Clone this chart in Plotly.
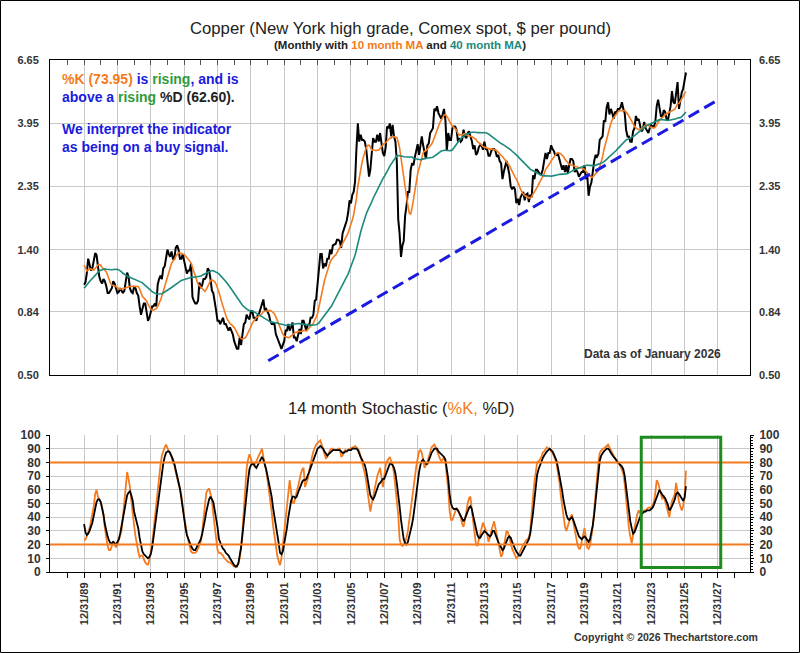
import numpy as np
import pandas as pd
import plotly.graph_objects as go

# ---- data ---------------------------------------------------------------
# monthly closes before the chart starts (Sep 1986 - Nov 1989), only used to
# warm up the moving averages
lead_close = [
    0.61, 0.62, 0.61, 0.62,
    0.62, 0.63, 0.66, 0.66, 0.69, 0.74, 0.80, 0.80, 0.82, 0.86, 1.05, 1.18,
    1.06, 1.02, 1.10, 0.97, 0.98, 1.02, 0.96, 1.00, 1.22, 1.32, 1.47, 1.52,
    1.44, 1.42, 1.37, 1.42, 1.22, 1.14, 1.20, 1.28, 1.31, 1.21, 1.14,
]

# copper, $ per pound, month end Dec 1989 - Jan 2026
close = [
    1.05,
    1.07, 1.15, 1.30, 1.24, 1.18, 1.20, 1.30, 1.36, 1.34, 1.20, 1.12, 1.08,  # 1990
    1.06, 1.10, 1.08, 1.04, 0.98, 0.98, 1.00, 1.02, 1.08, 1.06, 1.02, 0.98,  # 1991
    0.99, 1.02, 1.00, 0.98, 1.00, 1.08, 1.16, 1.12, 1.02, 0.99, 0.98, 1.03,  # 1992
    1.02, 0.98, 0.96, 0.88, 0.82, 0.86, 0.90, 0.90, 0.84, 0.78, 0.80, 0.85,  # 1993
    0.88, 0.88, 0.90, 0.88, 1.05, 1.10, 1.13, 1.10, 1.20, 1.22, 1.33, 1.40,  # 1994
    1.35, 1.32, 1.38, 1.30, 1.30, 1.42, 1.45, 1.40, 1.30, 1.30, 1.35, 1.28,  # 1995
    1.18, 1.15, 1.18, 1.18, 1.25, 0.95, 0.92, 0.90, 0.90, 0.92, 1.07, 1.02,  # 1996
    1.05, 1.10, 1.10, 1.12, 1.20, 1.18, 1.10, 1.00, 0.98, 0.92, 0.85, 0.78,  # 1997
    0.78, 0.76, 0.78, 0.80, 0.76, 0.76, 0.74, 0.72, 0.74, 0.72, 0.70, 0.66,  # 1998
    0.64, 0.62, 0.62, 0.68, 0.64, 0.70, 0.76, 0.77, 0.82, 0.80, 0.79, 0.84,  # 1999
    0.85, 0.80, 0.80, 0.78, 0.82, 0.83, 0.87, 0.90, 0.93, 0.85, 0.86, 0.84,  # 2000
    0.82, 0.78, 0.76, 0.76, 0.76, 0.70, 0.68, 0.66, 0.64, 0.62, 0.64, 0.66,  # 2001
    0.72, 0.72, 0.76, 0.72, 0.74, 0.77, 0.68, 0.68, 0.66, 0.70, 0.73, 0.70,  # 2002
    0.78, 0.78, 0.74, 0.72, 0.76, 0.75, 0.80, 0.80, 0.82, 0.92, 0.93, 1.05,  # 2003
    1.20, 1.35, 1.35, 1.20, 1.25, 1.22, 1.30, 1.30, 1.40, 1.35, 1.45, 1.46,  # 2004
    1.47, 1.52, 1.52, 1.50, 1.42, 1.60, 1.65, 1.70, 1.78, 1.90, 2.10, 2.05,  # 2005
    2.20, 2.25, 2.45, 3.20, 3.95, 3.40, 3.60, 3.45, 3.45, 3.40, 3.20, 2.85,  # 2006
    2.55, 2.70, 3.10, 3.50, 3.40, 3.40, 3.60, 3.40, 3.65, 3.40, 3.10, 3.02,  # 2007
    3.25, 3.85, 3.80, 3.95, 3.55, 3.90, 3.55, 3.40, 2.90, 1.80, 1.60, 1.32,  # 2008
    1.45, 1.50, 1.85, 2.00, 2.25, 2.25, 2.70, 2.85, 2.80, 3.00, 3.15, 3.33,  # 2009
    3.05, 3.30, 3.55, 3.30, 3.10, 2.95, 3.30, 3.35, 3.65, 3.75, 3.80, 4.45,  # 2010
    4.40, 4.55, 4.30, 4.20, 4.10, 4.25, 4.45, 4.05, 3.15, 3.65, 3.45, 3.45,  # 2011
    3.80, 3.85, 3.85, 3.75, 3.40, 3.50, 3.40, 3.45, 3.75, 3.55, 3.50, 3.65,  # 2012
    3.70, 3.55, 3.42, 3.20, 3.30, 3.05, 3.10, 3.25, 3.30, 3.30, 3.18, 3.40,  # 2013
    3.20, 3.20, 3.03, 3.03, 3.15, 3.20, 3.20, 3.15, 3.00, 3.05, 2.90, 2.85,  # 2014
    2.50, 2.65, 2.75, 2.90, 2.75, 2.60, 2.35, 2.30, 2.35, 2.30, 2.05, 2.13,  # 2015
    2.02, 2.15, 2.20, 2.25, 2.10, 2.20, 2.22, 2.07, 2.20, 2.15, 2.58, 2.50,  # 2016
    2.70, 2.70, 2.65, 2.60, 2.60, 2.70, 2.90, 3.10, 2.95, 3.10, 3.10, 3.30,  # 2017
    3.20, 3.15, 3.05, 3.05, 3.07, 2.95, 2.80, 2.70, 2.80, 2.65, 2.80, 2.63,  # 2018
    2.80, 2.95, 2.95, 2.90, 2.65, 2.70, 2.65, 2.55, 2.60, 2.65, 2.65, 2.80,  # 2019
    2.50, 2.60, 2.18, 2.35, 2.43, 2.70, 2.90, 3.05, 3.00, 3.07, 3.45, 3.50,  # 2020
    3.55, 4.05, 4.00, 4.50, 4.70, 4.25, 4.45, 4.30, 4.10, 4.35, 4.30, 4.45,  # 2021
    4.45, 4.50, 4.70, 4.45, 4.30, 3.75, 3.55, 3.55, 3.40, 3.40, 3.70, 3.80,  # 2022
    4.20, 4.05, 4.10, 3.90, 3.70, 3.75, 4.00, 3.80, 3.70, 3.65, 3.80, 3.90,  # 2023
    3.85, 3.85, 4.00, 4.55, 4.80, 4.40, 4.20, 4.15, 4.40, 4.35, 4.10, 4.05,  # 2024
    4.30, 4.55, 5.15, 4.70, 4.65, 5.05, 5.55, 4.45, 4.85, 5.10, 5.25, 5.70,  # 2025
    6.00,
]

# 14 month stochastic, %K (orange) and %D (black), same months
k_pct = [
    23, 24, 26, 29, 32, 37, 42, 48, 57, 60, 55, 53, 51,
    47, 42, 32, 25, 19, 16, 16, 19, 22, 20, 18, 20,  # 1991
    23, 26, 30, 40, 50, 62, 73, 68, 62, 52, 45, 34,  # 1992
    26, 19, 15, 11, 12, 12, 9, 7, 6, 5, 9, 15,  # 1993
    21, 30, 40, 52, 62, 71, 78, 85, 89, 91, 93, 90,  # 1994
    88, 86, 84, 80, 78, 73, 69, 66, 61, 56, 48, 40,  # 1995
    33, 28, 23, 18, 15, 14, 14, 14, 15, 17, 19, 22,  # 1996
    30, 38, 48, 58, 60, 61, 57, 52, 42, 32, 23, 16,  # 1997
    14, 14, 13, 12, 10, 9, 8, 7, 7, 6, 5, 4,  # 1998
    4, 5, 6, 10, 18, 30, 44, 62, 76, 82, 86, 83,  # 1999
    79, 78, 79, 81, 83, 86, 88, 90, 84, 80, 74, 67,  # 2000
    60, 52, 44, 34, 26, 17, 12, 8, 5, 10, 19, 30,  # 2001
    40, 50, 60, 67, 58, 51, 50, 54, 57, 62, 67, 72,  # 2002
    75, 76, 62, 65, 68, 74, 80, 84, 88, 91, 93, 94,  # 2003
    95, 96, 93, 89, 86, 83, 84, 87, 89, 90, 90, 89,  # 2004
    89, 89, 90, 90, 84, 85, 88, 89, 88, 89, 90, 90,  # 2005
    91, 91, 92, 91, 90, 88, 84, 80, 77, 72, 66, 58,  # 2006
    50, 44, 50, 55, 60, 66, 70, 73, 76, 69, 62, 70,  # 2007
    78, 81, 83, 84, 81, 78, 72, 63, 55, 42, 24, 20,  # 2008
    19, 20, 22, 25, 30, 37, 45, 54, 61, 69, 77, 83,  # 2009
    88, 89, 87, 82, 76, 78, 80, 84, 88, 91, 92, 93,  # 2010
    91, 88, 86, 83, 81, 82, 84, 80, 70, 60, 45, 38,  # 2011
    38, 41, 45, 47, 45, 43, 40, 35, 33, 38, 46, 50,  # 2012
    54, 55, 45, 36, 28, 20, 19, 24, 27, 32, 36, 33,  # 2013
    31, 28, 22, 25, 30, 34, 37, 32, 27, 22, 18, 11,  # 2014
    13, 18, 24, 30, 29, 24, 21, 17, 15, 13, 10, 11,  # 2015
    13, 16, 18, 20, 22, 23, 24, 25, 30, 40, 55, 66,  # 2016
    75, 80, 81, 82, 84, 87, 88, 90, 91, 90, 90, 88,  # 2017
    87, 85, 81, 79, 72, 66, 56, 47, 40, 33, 30, 34,  # 2018
    37, 40, 42, 36, 31, 25, 20, 17, 17, 22, 28, 32,  # 2019
    25, 18, 17, 19, 26, 33, 45, 58, 70, 80, 87, 89,  # 2020
    90, 90, 91, 92, 93, 91, 89, 86, 84, 82, 81, 80,  # 2021
    79, 77, 75, 72, 64, 52, 42, 32, 26, 21, 27, 33,  # 2022
    38, 42, 45, 43, 41, 43, 45, 45, 46, 47, 47, 47,  # 2023
    49, 51, 58, 67, 65, 61, 56, 53, 56, 52, 47, 44,  # 2024
    40, 46, 52, 54, 57, 65, 58, 51, 48, 45, 48, 55,  # 2025
    73.95,
]

d_pct = [
    35, 29, 27, 28, 30, 33, 36, 41, 47, 51, 53, 53, 51,
    47, 42, 35, 30, 26, 23, 21, 21, 22, 21, 20, 22,  # 1991
    24, 28, 34, 39, 45, 51, 56, 58, 59, 56, 52, 44,  # 1992
    40, 36, 32, 25, 19, 15, 13, 12, 11, 10, 11, 13,  # 1993
    18, 25, 32, 40, 48, 57, 65, 73, 79, 84, 87, 88,  # 1994
    88, 87, 85, 82, 79, 75, 71, 66, 61, 54, 46, 38,  # 1995
    32, 27, 24, 21, 19, 17, 16, 16, 18, 20, 22, 24,  # 1996
    28, 32, 38, 44, 50, 53, 55, 53, 51, 45, 40, 33,  # 1997
    24, 21, 19, 17, 16, 14, 13, 12, 10, 8, 6, 5,  # 1998
    4, 4, 6, 11, 18, 27, 38, 48, 57, 67, 75, 78,  # 1999
    79, 79, 77, 76, 78, 80, 83, 84, 82, 79, 75, 70,  # 2000
    65, 60, 55, 47, 41, 34, 27, 21, 14, 13, 15, 20,  # 2001
    26, 32, 40, 47, 52, 55, 55, 54, 55, 58, 61, 64,  # 2002
    66, 67, 67, 68, 70, 73, 76, 79, 82, 85, 88, 90,  # 2003
    91, 92, 91, 90, 88, 86, 85, 86, 87, 88, 89, 89,  # 2004
    89, 89, 89, 89, 88, 87, 87, 88, 88, 89, 89, 89,  # 2005
    90, 90, 90, 90, 89, 86, 84, 82, 80, 78, 74, 68,  # 2006
    62, 56, 54, 53, 55, 58, 61, 64, 65, 67, 68, 68,  # 2007
    71, 74, 77, 79, 79, 78, 76, 72, 65, 58, 48, 38,  # 2008
    30, 24, 21, 20, 22, 26, 30, 35, 41, 50, 59, 67,  # 2009
    73, 78, 81, 82, 80, 79, 79, 81, 84, 87, 89, 90,  # 2010
    90, 90, 88, 87, 86, 85, 84, 82, 76, 68, 57, 50,  # 2011
    47, 46, 46, 46, 45, 43, 41, 38, 37, 39, 42, 44,  # 2012
    47, 48, 46, 41, 36, 31, 27, 25, 25, 27, 29, 30,  # 2013
    29, 28, 27, 26, 27, 30, 30, 27, 25, 22, 20, 18,  # 2014
    16, 17, 20, 23, 25, 26, 25, 22, 19, 17, 15, 13,  # 2015
    12, 12, 14, 16, 18, 20, 22, 24, 28, 35, 43, 53,  # 2016
    63, 71, 75, 78, 80, 83, 85, 87, 88, 89, 90, 89,  # 2017
    88, 86, 84, 81, 76, 71, 65, 59, 52, 46, 42, 39,  # 2018
    38, 39, 40, 38, 35, 32, 29, 26, 25, 24, 25, 26,  # 2019
    25, 23, 22, 24, 28, 34, 42, 52, 65, 75, 81, 85,  # 2020
    87, 88, 89, 90, 90, 89, 87, 85, 84, 83, 81, 80,  # 2021
    79, 78, 77, 75, 70, 62, 53, 45, 37, 32, 28, 29,  # 2022
    32, 35, 38, 40, 42, 43, 44, 44, 45, 45, 45, 46,  # 2023
    47, 49, 52, 55, 58, 60, 58, 56, 55, 54, 52, 49,  # 2024
    45, 46, 48, 50, 53, 57, 58, 57, 55, 53, 52, 54,  # 2025
    62.60,
]

# hand drawn support line (date, price)
trend_dates = ['2001-01-15', '2028-01-30']
trend_prices = [0.562, 4.82]

# overbought / oversold levels of the stochastic
bands = [20, 80]

# highlighted window in the stochastic panel
box_dates = ['2023-05-28', '2028-03-02']
box_levels = [3.2, 98.3]

price_ticks = [0.50, 0.84, 1.40, 2.35, 3.95, 6.65]
grid_years = list(range(1989, 2029, 2))
date_ticks = [f'{y}-12-31' for y in grid_years]
date_labels = [f'12/31/{y % 100:02d}' for y in grid_years]
minor_ticks = [f'{y}-12-31' for y in range(1988, 2030)]

assert len(close) == len(k_pct) == len(d_pct) == 434

# ---- derived series ------------------------------------------------------
dates = pd.date_range('1989-12-31', periods=len(close), freq='ME')
full = pd.Series(lead_close + close)
ma10 = full.rolling(10).mean().iloc[len(lead_close):].values
ma40 = full.rolling(40).mean().iloc[len(lead_close):].values

# ---- styling ------------------------------------------------------------
FONT = 'Liberation Sans, Arial, sans-serif'
ORANGE = '#F47B20'
TEAL = '#1B8A7D'
BLUE = '#1A1AE0'
GREEN = '#2E9B3A'
GRID = '#C8C8C8'
TXT = '#333333'

W, H = 800, 653
L, R, T, B = 50, 50, 60, 81   # plot area is px 50..750 x 60..572


def px_x(px):
    return (px - L) / (W - L - R)


def px_y(py):
    return (H - B - py) / (H - T - B)


x_range = ['1987-12-16', '2029-12-03']
tickfont = dict(family=FONT, size=11, color=TXT, weight='bold')

fig = go.Figure()

fig.add_trace(go.Scatter(x=dates, y=close, mode='lines',
                         line=dict(color='black', width=2),
                         xaxis='x', yaxis='y', showlegend=False))
fig.add_trace(go.Scatter(x=dates, y=ma10, mode='lines',
                         line=dict(color=ORANGE, width=1.6),
                         xaxis='x', yaxis='y', showlegend=False))
fig.add_trace(go.Scatter(x=dates, y=ma40, mode='lines',
                         line=dict(color=TEAL, width=1.6),
                         xaxis='x', yaxis='y', showlegend=False))
fig.add_trace(go.Scatter(x=trend_dates, y=trend_prices, mode='lines',
                         line=dict(color=BLUE, width=3, dash='12px,6px'),
                         xaxis='x', yaxis='y3', showlegend=False))

fig.add_trace(go.Scatter(x=dates, y=k_pct, mode='lines',
                         line=dict(color=ORANGE, width=1.8),
                         xaxis='x2', yaxis='y2', showlegend=False))
fig.add_trace(go.Scatter(x=dates, y=d_pct, mode='lines',
                         line=dict(color='black', width=1.8),
                         xaxis='x2', yaxis='y4', showlegend=False))

price_axis = dict(type='log', range=[np.log10(0.5), np.log10(6.65)],
                  tickmode='array', tickvals=price_ticks,
                  ticktext=[f'{v:.2f}' for v in price_ticks],
                  tickfont=tickfont, ticks='', ticklabelstandoff=8,
                  domain=[px_y(375), 1.0])
stoch_axis = dict(range=[0, 100], tickmode='linear', tick0=0, dtick=10,
                  tickfont=dict(family=FONT, size=12, color=TXT, weight='bold'),
                  ticks='outside', ticklen=3, tickcolor='black',
                  ticklabelstandoff=3,
                  domain=[0.0, px_y(435)])

fig.update_layout(
    width=W, height=H,
    margin=dict(l=L, r=R, t=T, b=B),
    paper_bgcolor='white', plot_bgcolor='white',
    xaxis=dict(type='date', range=x_range, anchor='y', side='top',
               tickmode='array', tickvals=date_ticks, showticklabels=False,
               ticks='inside', ticklen=5, tickcolor='#555',
               minor=dict(tickmode='array', tickvals=minor_ticks,
                          ticks='inside', ticklen=5, tickcolor='#555'),
               showgrid=True, gridcolor=GRID, gridwidth=1,
               showline=True, mirror=True, linecolor='black', linewidth=1),
    yaxis=dict(price_axis, anchor='x', side='left', showgrid=True,
               gridcolor=GRID, showline=True, mirror=True,
               linecolor='black', linewidth=1),
    yaxis3=dict(price_axis, anchor='x', overlaying='y', side='right',
                showgrid=False),
    xaxis2=dict(type='date', range=x_range, anchor='y2',
                tickmode='array', tickvals=date_ticks, ticktext=date_labels,
                tickangle=-90, tickfont=tickfont,
                ticks='outside', ticklen=5, tickcolor='black',
                minor=dict(tickmode='array', tickvals=minor_ticks,
                           ticks='outside', ticklen=5, tickcolor='black'),
                showgrid=True, gridcolor=GRID, gridwidth=1,
                showline=True, linecolor='black', linewidth=1),
    yaxis2=dict(stoch_axis, anchor='x2', side='left', showgrid=True,
                gridcolor=GRID, showline=True, linecolor='black'),
    yaxis4=dict(stoch_axis, anchor='x2', overlaying='y2', side='right',
                showgrid=False, showline=True, linecolor='black',
                minor=dict(dtick=2, ticks='outside', ticklen=2,
                           tickcolor='black')),
)

shapes = []
for lvl in bands:
    shapes.append(dict(type='line', xref='x2 domain', x0=0, x1=1,
                       yref='y2', y0=lvl, y1=lvl,
                       line=dict(color=ORANGE, width=2), layer='above'))
shapes.append(dict(type='rect', xref='x2', yref='y2',
                   x0=box_dates[0], x1=box_dates[1],
                   y0=box_levels[0], y1=box_levels[1],
                   line=dict(color='#1E8B1E', width=3)))
# frame around the whole picture
shapes.append(dict(type='rect', xref='paper', yref='paper',
                   x0=px_x(0.5), x1=px_x(799.5), y0=px_y(652.5), y1=px_y(0.5),
                   line=dict(color='black', width=1)))
fig.update_layout(shapes=shapes)


def note(text, x, y, size, xanchor='center', color='#222', bold=False,
         align='center'):
    fig.add_annotation(text=text, xref='paper', yref='paper',
                       x=px_x(x), y=px_y(y), xanchor=xanchor, yanchor='middle',
                       showarrow=False, align=align,
                       font=dict(family=FONT, size=size, color=color,
                                 weight='bold' if bold else 'normal'))


def span(s, color):
    return f'<span style="color:{color}">{s}</span>'


note('Copper (New York high grade, Comex spot, $ per pound)', 400, 28, 16.7)
note('(Monthly with ' + span('10 month MA', ORANGE) + ' and '
     + span('40 month MA', TEAL) + ')', 400, 45, 11.5, bold=True)
note('14 month Stochastic (' + span('%K,', ORANGE) + ' %D)', 401, 408, 16.5)

note(span('%K (73.95)', ORANGE) + ' is ' + span('rising', GREEN)
     + ', and is<br>above a ' + span('rising', GREEN) + ' '
     + span('%D (62.60).', '#222'),
     60, 88, 14, xanchor='left', color=BLUE, bold=True, align='left')
note('We interpret the indicator<br>as being on a buy signal.',
     60, 138, 14, xanchor='left', color=BLUE, bold=True, align='left')

note('Data as of January 2026', 723, 354, 12, xanchor='right', color=TXT,
     bold=True)
note('Copyright © 2026 Thechartstore.com', 760, 637, 10.5, xanchor='right',
     color=TXT, bold=True)

# the page body has a default margin; drop it so the figure sits at 0,0
fig.write_html("out.html", config={'displayModeBar': False},
               post_script="document.body.style.margin='0px';")
